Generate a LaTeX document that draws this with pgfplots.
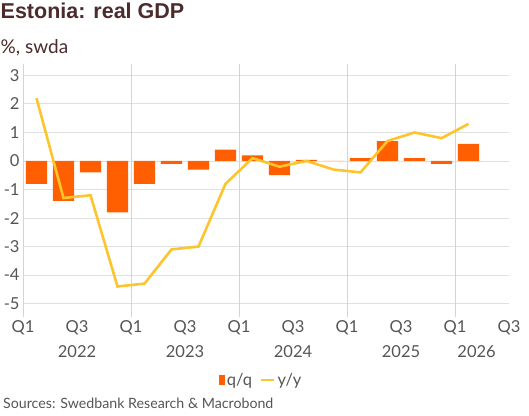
\documentclass[border=0pt]{standalone}
\usepackage{fontspec}
\setmainfont{Lato}
\newfontfamily\titlefont{Liberation Sans}
\usepackage{pgfplots}
\pgfplotsset{compat=1.18}
\definecolor{barc}{HTML}{FF5F00}
\definecolor{linec}{HTML}{FCC52E}
\definecolor{titc}{HTML}{4B2B2B}
\definecolor{tickc}{HTML}{555555}
\definecolor{gridc}{HTML}{E0E0E0}
\definecolor{vgridc}{HTML}{D4D4D4}
\begin{document}
\begin{tikzpicture}[x=1bp,y=1bp]
\node[anchor=base west, inner sep=0pt, text=titc, font=\titlefont\fontsize{21.5bp}{25bp}\selectfont\bfseries] at (-22.5,298.5) {Estonia: real GDP};
\node[anchor=base west, inner sep=0pt, text=titc, font=\fontsize{19bp}{22bp}\selectfont] at (-22.5,264) {\%, swda};
\node[anchor=base west, inner sep=0pt, text=tickc, font=\fontsize{14.2bp}{17bp}\selectfont] at (-20,-91) {Sources: Swedbank Research \& Macrobond};
\begin{axis}[at={(0,0)}, anchor=south west, scale only axis,
  width=486bp, height=253bp,
  xmin=0, xmax=18, ymin=-5.47, ymax=3.4,
  axis line style={draw=none},
  tick style={draw=none},
  xtick={0,2,...,18},
  xticklabels={Q1,Q3,Q1,Q3,Q1,Q3,Q1,Q3,Q1,Q3},
  ytick={-5,...,3},
  yticklabels={-5,-4,-3,-2,-1,0,1,2,3},
  ymajorgrids,
  major grid style={gridc, line width=0.9bp},
  extra x ticks={0,4,8,12,16},
  extra x tick labels={},
  extra x tick style={grid=major, major grid style={vgridc, line width=0.9bp}},
  ticklabel style={font=\fontsize{16.5bp}{19bp}\selectfont, text=tickc},
  clip=false,
  legend style={at={(0.49,-0.249)}, anchor=center, legend columns=2, draw=none, fill=none,
    font=\fontsize{16.5bp}{19bp}\selectfont, text=tickc,
    /tikz/every even column/.append style={column sep=6bp}},
]
\addplot[ybar, bar width=0.78, fill=barc, draw=none,
  legend image code/.code={\fill[barc] (0bp,-5bp) rectangle (6bp,5bp);}]
  coordinates {
  (0.5,-0.8) (1.5,-1.4) (2.5,-0.4) (3.5,-1.8)
  (4.5,-0.8) (5.5,-0.1) (6.5,-0.3) (7.5,0.4)
  (8.5,0.2) (9.5,-0.5) (10.5,0.04) (11.5,0.0)
  (12.5,0.1) (13.5,0.7) (14.5,0.1) (15.5,-0.1)
  (16.5,0.6)};
\addlegendentry{q/q}
\addplot[linec, line width=2.6bp, mark=none,
  legend image code/.code={\draw[linec, line width=2.6bp] (0bp,0bp) -- (13bp,0bp);}]
  coordinates {
  (0.5,2.2) (1.5,-1.3) (2.5,-1.2) (3.5,-4.4)
  (4.5,-4.3) (5.5,-3.1) (6.5,-3.0) (7.5,-0.8)
  (8.5,0.1) (9.5,-0.2) (10.5,0.0) (11.5,-0.3)
  (12.5,-0.4) (13.5,0.7) (14.5,1.0) (15.5,0.8)
  (16.5,1.3)};
\addlegendentry{y/y}
\node[font=\fontsize{16.5bp}{19bp}\selectfont, text=tickc] at (axis cs:2,-5.47) [yshift=-35bp] {2022};
\node[font=\fontsize{16.5bp}{19bp}\selectfont, text=tickc] at (axis cs:6,-5.47) [yshift=-35bp] {2023};
\node[font=\fontsize{16.5bp}{19bp}\selectfont, text=tickc] at (axis cs:10,-5.47) [yshift=-35bp] {2024};
\node[font=\fontsize{16.5bp}{19bp}\selectfont, text=tickc] at (axis cs:14,-5.47) [yshift=-35bp] {2025};
\node[font=\fontsize{16.5bp}{19bp}\selectfont, text=tickc] at (axis cs:16.8,-5.47) [yshift=-35bp] {2026};
\end{axis}
\pgfresetboundingbox
\path[use as bounding box] (-23,-98) rectangle (506,317);
\end{tikzpicture}
\end{document}
